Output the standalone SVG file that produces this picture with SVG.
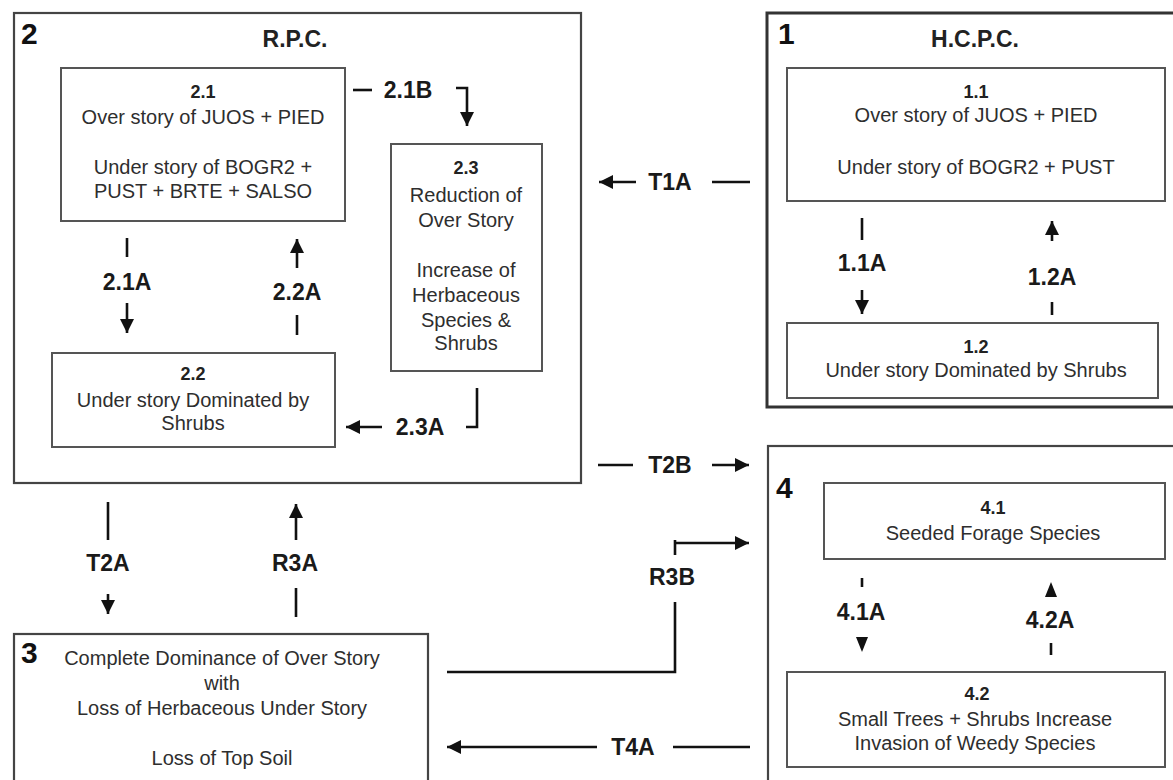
<svg xmlns="http://www.w3.org/2000/svg" width="1173" height="780" viewBox="0 0 1173 780">
<defs>
<style>
text{font-family:"Liberation Sans",Arial,sans-serif}
.t{font-size:20px;fill:#2e2e2e;text-anchor:middle}
.n{font-size:18px;font-weight:bold;fill:#222;text-anchor:middle}
.lbl{font-size:23px;font-weight:bold;fill:#1a1a1a;text-anchor:middle}
.big{font-size:30px;font-weight:bold;fill:#111}
.ttl{font-size:23px;font-weight:bold;fill:#222;text-anchor:middle}
.box{fill:none;stroke:#555;stroke-width:2}
.outer{fill:none;stroke:#444;stroke-width:2.2}
.c{fill:none;stroke:#111;stroke-width:2.6}
.a{fill:none;stroke:#111;stroke-width:2.6;marker-end:url(#ah)}
.tri{fill:#111}
</style>
<marker id="ah" markerUnits="userSpaceOnUse" markerWidth="15" markerHeight="15" refX="14" refY="7" orient="auto">
<path d="M0,0 L14,7 L0,14 z" fill="#111"/>
</marker>
</defs>
<rect width="1173" height="780" fill="#fff"/>

<g id="state2">
<rect class="outer" x="14" y="13" width="567" height="470"/>
<text class="big" x="21" y="44">2</text>
<text class="ttl" x="295" y="47">R.P.C.</text>
</g>
<g id="p21">
<rect class="box" x="61" y="68" width="284" height="153"/>
<text class="n" x="203" y="98">2.1</text>
<text class="t" x="203" y="124">Over story of JUOS + PIED</text>
<text class="t" x="203" y="174">Under story of BOGR2 +</text>
<text class="t" x="203" y="198">PUST + BRTE + SALSO</text>
</g>
<g id="p23">
<rect class="box" x="391" y="144" width="151" height="227"/>
<text class="n" x="466" y="174">2.3</text>
<text class="t" x="466" y="202">Reduction of</text>
<text class="t" x="466" y="227">Over Story</text>
<text class="t" x="466" y="277">Increase of</text>
<text class="t" x="466" y="302">Herbaceous</text>
<text class="t" x="466" y="327">Species &amp;</text>
<text class="t" x="466" y="350">Shrubs</text>
</g>
<g id="p22">
<rect class="box" x="52" y="353" width="283" height="94"/>
<text class="n" x="193" y="380">2.2</text>
<text class="t" x="193" y="407">Under story Dominated by</text>
<text class="t" x="193" y="430">Shrubs</text>
</g>

<g id="state1">
<rect x="767" y="13" width="420" height="394" fill="none" stroke="#333" stroke-width="3"/>
<text class="big" x="778" y="44">1</text>
<text class="ttl" x="975" y="47">H.C.P.C.</text>
</g>
<g id="p11">
<rect class="box" x="787" y="68" width="378" height="133"/>
<text class="n" x="976" y="98">1.1</text>
<text class="t" x="976" y="122">Over story of JUOS + PIED</text>
<text class="t" x="976" y="174">Under story of BOGR2 + PUST</text>
</g>
<g id="p12">
<rect class="box" x="787" y="323" width="371" height="75"/>
<text class="n" x="976" y="353">1.2</text>
<text class="t" x="976" y="377">Under story Dominated by Shrubs</text>
</g>

<g id="state3">
<rect class="outer" x="14" y="634" width="414" height="160"/>
<text class="big" x="21" y="663">3</text>
<text class="t" x="222" y="665">Complete Dominance of Over Story</text>
<text class="t" x="222" y="690">with</text>
<text class="t" x="222" y="715">Loss of Herbaceous Under Story</text>
<text class="t" x="222" y="765">Loss of Top Soil</text>
</g>

<g id="state4">
<rect class="outer" x="768" y="446" width="420" height="350"/>
<text class="big" x="776" y="498">4</text>
</g>
<g id="p41">
<rect class="box" x="824" y="483" width="341" height="76"/>
<text class="n" x="993" y="514">4.1</text>
<text class="t" x="993" y="540">Seeded Forage Species</text>
</g>
<g id="p42">
<rect class="box" x="787" y="672" width="378" height="95"/>
<text class="n" x="977" y="700">4.2</text>
<text class="t" x="975" y="726">Small Trees + Shrubs Increase</text>
<text class="t" x="975" y="750">Invasion of Weedy Species</text>
</g>

<g id="connectors">
<line class="c" x1="353" y1="90" x2="372" y2="90"/>
<text class="lbl" x="408" y="98">2.1B</text>
<path class="a" d="M456,88 H467 V126"/>
<line class="c" x1="127" y1="238" x2="127" y2="257"/>
<text class="lbl" x="127" y="290">2.1A</text>
<line class="a" x1="127" y1="303" x2="127" y2="333"/>
<line class="a" x1="297" y1="268" x2="297" y2="239"/>
<text class="lbl" x="297" y="300">2.2A</text>
<line class="c" x1="297" y1="315" x2="297" y2="335"/>
<path class="c" d="M477,388 V427 H466"/>
<text class="lbl" x="420" y="435">2.3A</text>
<line class="a" x1="382" y1="427" x2="346" y2="427"/>
<line class="c" x1="712" y1="182" x2="750" y2="182"/>
<text class="lbl" x="670" y="190">T1A</text>
<line class="a" x1="636" y1="182" x2="599" y2="182"/>
<line class="c" x1="862" y1="218" x2="862" y2="240"/>
<text class="lbl" x="862" y="271">1.1A</text>
<line class="a" x1="862" y1="290" x2="862" y2="314"/>
<line class="a" x1="1052" y1="241" x2="1052" y2="221"/>
<text class="lbl" x="1052" y="285">1.2A</text>
<line class="c" x1="1052" y1="302" x2="1052" y2="315"/>
<line class="c" x1="598" y1="465" x2="633" y2="465"/>
<text class="lbl" x="670" y="473">T2B</text>
<line class="a" x1="712" y1="465" x2="749" y2="465"/>
<line class="c" x1="108" y1="502" x2="108" y2="540"/>
<text class="lbl" x="108" y="571">T2A</text>
<line class="a" x1="108" y1="594" x2="108" y2="614"/>
<line class="a" x1="296" y1="540" x2="296" y2="504"/>
<text class="lbl" x="295" y="571">R3A</text>
<line class="c" x1="296" y1="588" x2="296" y2="617"/>
<path class="c" d="M447,672 H675 V602"/>
<text class="lbl" x="672" y="585">R3B</text>
<line class="c" x1="675" y1="540" x2="675" y2="555"/>
<line class="a" x1="675" y1="543" x2="749" y2="543"/>
<line class="c" x1="673" y1="747" x2="750" y2="747"/>
<text class="lbl" x="633" y="755">T4A</text>
<line class="a" x1="597" y1="747" x2="447" y2="747"/>
<line class="c" x1="862" y1="578" x2="862" y2="587"/>
<text class="lbl" x="861" y="620">4.1A</text>
<polygon class="tri" points="856,637 868,637 862,652"/>
<polygon class="tri" points="1045,597 1057,597 1051,582"/>
<text class="lbl" x="1050" y="628">4.2A</text>
<line class="c" x1="1051" y1="643" x2="1051" y2="655"/>
</g>
</svg>
